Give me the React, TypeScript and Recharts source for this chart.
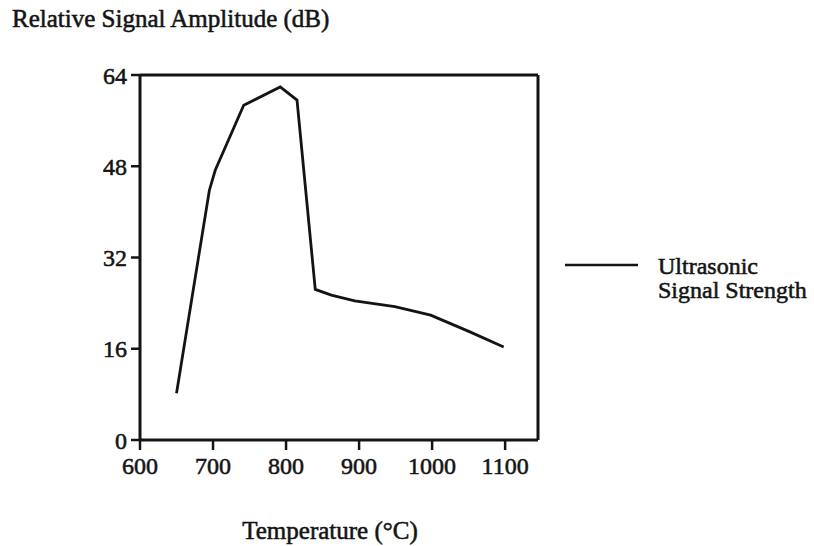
import React from "react";
import { LineChart, Line, XAxis, YAxis, ReferenceLine, Label } from "recharts";

const temperatures = [650, 695, 703, 742, 792, 815, 840, 862, 894, 949, 998, 1051, 1098];
const amplitudes = [8.2, 43.8, 47.3, 58.7, 61.9, 59.6, 26.4, 25.4, 24.4, 23.4, 21.9, 19.0, 16.3];
const xTicks = [600, 700, 800, 900, 1000, 1100];
const yTicks = [0, 16, 32, 48, 64];
const seriesName = ["Ultrasonic", "Signal Strength"];
const titleText = "Relative Signal Amplitude (dB)";
const xLabelText = "Temperature (°C)";

const data = temperatures.map((t, i) => ({ t, v: amplitudes[i] }));

const FONT = "'Liberation Serif', 'Times New Roman', serif";
const INK = "#141414";

const tickStyle = { fontFamily: FONT, fontSize: 24, fill: INK, stroke: INK, strokeWidth: 0.55 };

function LegendBox() {
  return (
    <div
      style={{
        position: "absolute",
        left: 565,
        top: 254,
        display: "flex",
        alignItems: "flex-start",
        fontFamily: FONT,
        fontSize: 24,
        color: INK,
        lineHeight: "24px",
        WebkitTextStroke: "0.55px " + INK,
        whiteSpace: "nowrap",
      }}
    >
      <svg width={74} height={22} style={{ display: "block" }}>
        <line x1={0} y1={11} x2={73} y2={11} stroke={INK} strokeWidth={2.6} />
      </svg>
      <div style={{ marginLeft: 19 }}>
        {seriesName.map((s) => (
          <div key={s}>{s}</div>
        ))}
      </div>
    </div>
  );
}

export default function App() {
  return (
    <div style={{ position: "absolute", left: 0, top: 0, width: 814, height: 546, background: "#fff" }}>
      <div
        style={{
          position: "absolute",
          left: 12,
          top: 5,
          fontFamily: FONT,
          fontSize: 25,
          color: INK,
          WebkitTextStroke: "0.55px " + INK,
          whiteSpace: "nowrap",
        }}
      >
        {titleText}
      </div>
      <LineChart width={814} height={546} data={data} margin={{ top: 75, right: 276, bottom: 66, left: 80 }}>
        <XAxis
          dataKey="t"
          type="number"
          domain={[600, 1145]}
          ticks={xTicks}
          allowDataOverflow
          stroke={INK}
          strokeWidth={3}
          tickSize={10}
          tickMargin={7}
          tick={tickStyle}
          tickLine={{ stroke: INK, strokeWidth: 2.5 }}
          height={40}
        >
          <Label
            value={xLabelText}
            position="bottom"
            offset={41}
            dx={-9}
            style={{ fontFamily: FONT, fontSize: 25, fill: INK, stroke: INK, strokeWidth: 0.55 }}
          />
        </XAxis>
        <YAxis
          type="number"
          domain={[0, 64]}
          ticks={yTicks}
          stroke={INK}
          strokeWidth={3}
          tickSize={9}
          tickMargin={4}
          tick={tickStyle}
          tickLine={{ stroke: INK, strokeWidth: 2.5 }}
          width={60}
        />
        <ReferenceLine y={64} stroke={INK} strokeWidth={3} />
        <ReferenceLine x={1145} stroke={INK} strokeWidth={3} />
        <Line
          type="linear"
          dataKey="v"
          stroke={INK}
          strokeWidth={2.8}
          dot={false}
          isAnimationActive={false}
        />
      </LineChart>
      <LegendBox />
    </div>
  );
}
